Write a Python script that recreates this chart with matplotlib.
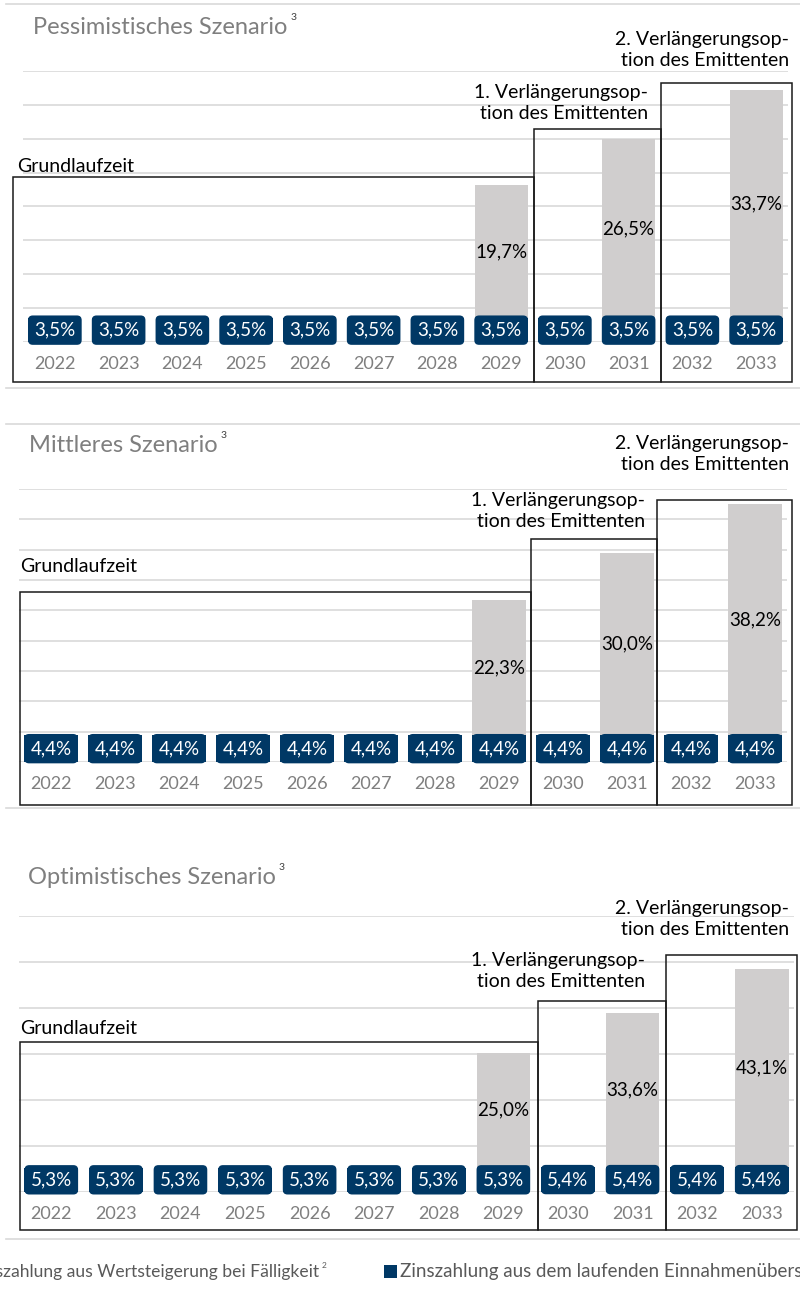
import matplotlib.pyplot as plt
from matplotlib.patches import Rectangle

plt.rcParams['font.family'] = ['Lato', 'DejaVu Sans']

W, H = 800, 1292
BLUE = '#003865'
GREY = '#d0cece'
GRID = '#d9d9d9'

years = [str(y) for y in range(2022, 2034)]

# laufende Zinszahlung (blau) und Zinszahlung bei Fälligkeit (grau)
pess_base = [3.5] * 12
pess_top = [0, 0, 0, 0, 0, 0, 0, 19.7, 0, 26.5, 0, 33.7]
mid_base = [4.4] * 12
mid_top = [0, 0, 0, 0, 0, 0, 0, 22.3, 0, 30.0, 0, 38.2]
opt_base = [5.3] * 8 + [5.4] * 4
opt_top = [0, 0, 0, 0, 0, 0, 0, 25.0, 0, 33.6, 0, 43.1]

titles = ['Pessimistisches Szenario', 'Mittleres Szenario', 'Optimistisches Szenario']
opt1 = '1. Verlängerungsop-\ntion des Emittenten'
opt2 = '2. Verlängerungsop-\ntion des Emittenten'

fig = plt.figure(figsize=(8, 12.92), dpi=100)
renderer = fig.canvas.get_renderer()


def px_axes(left, right, top, bottom):
    return fig.add_axes([left / W, 1 - bottom / H, (right - left) / W, (bottom - top) / H])


def ftext(x, y, s, **kw):
    return fig.text(x / W, 1 - y / H, s, **kw)


def sup_after(t, s, dy, **kw):
    # small superscript placed right after a text
    bb = t.get_window_extent(renderer)
    ftext(bb.x1 + 3, H - (bb.y0 + bb.y1) / 2 - dy, s, va='center', **kw)


def fmt(v):
    return f'{v:.1f}'.replace('.', ',') + '%'


# layout per panel (pixel positions of the plot area, box edges in data units)
panels = [
    dict(base=pess_base, top=pess_top, rect=(23, 788, 71, 342), ymax=40, step=5,
         boxes=[(-0.66, 7.52, -5.9, 24.4), (7.52, 9.51, -5.9, 31.4), (9.51, 11.57, -5.9, 38.2)],
         title=(33, 27), grund=(17, 166), t1=(648, 103), t2=(789, 50),
         frame=(4, 388)),
    dict(base=mid_base, top=mid_top, rect=(19, 787, 489, 762), ymax=45, step=5,
         boxes=[(-0.48, 7.5, -7.1, 28.0), (7.5, 9.47, -7.1, 36.7), (9.47, 11.58, -7.1, 43.2)],
         title=(29, 445), grund=(20, 567), t1=(645, 511), t2=(789, 454),
         frame=(424, 808)),
    dict(base=opt_base, top=opt_top, rect=(19, 794, 916, 1192), ymax=60, step=10,
         boxes=[(-0.48, 7.54, -8.3, 32.6), (7.54, 9.52, -8.3, 41.5), (9.52, 11.55, -8.3, 51.5)],
         title=(28, 877), grund=(20, 1028), t1=(645, 971), t2=(789, 919),
         frame=(None, 1239)),
]

for p, title in zip(panels, titles):
    ax = px_axes(*p['rect'])
    x = list(range(len(years)))
    ax.bar(x, p['base'], width=0.83, color=BLUE, zorder=2)
    ax.bar(x, p['top'], bottom=p['base'], width=0.83, color=GREY, zorder=2)
    ax.set_xlim(-0.5, len(years) - 0.5)
    ax.set_ylim(0, p['ymax'])
    ax.set_yticks(range(0, p['ymax'] + 1, p['step']))
    ax.yaxis.grid(True, color=GRID, lw=1.2)
    ax.set_axisbelow(True)
    ax.set_xticks(x, years)
    ax.tick_params(axis='x', length=0, pad=10, labelsize=13, labelcolor='#7f7f7f')
    ax.tick_params(axis='y', length=0, labelleft=False)
    for s in ax.spines.values():
        s.set_visible(False)

    for i, (b, t) in enumerate(zip(p['base'], p['top'])):
        ax.text(i, b / 2, fmt(b), ha='center', va='center', color='white', fontsize=13.5, zorder=4,
                bbox=dict(boxstyle='round,pad=0.33,rounding_size=0.25', fc=BLUE, ec='none'))
        if t > 0:
            ax.text(i, b + t / 2, fmt(t), ha='center', va='center', color='black',
                    fontsize=13.5, zorder=4)

    for x0, x1, y0, y1 in p['boxes']:
        ax.add_patch(Rectangle((x0, y0), x1 - x0, y1 - y0, fill=False, ec='#1a1a1a',
                               lw=1.1, clip_on=False, zorder=5))

    tx, ty = p['title']
    tt = ftext(tx, ty, title, fontsize=17, color='#7f7f7f', va='center')
    sup_after(tt, '3', 10, fontsize=7.5, color='#404040')
    ftext(p['grund'][0], p['grund'][1], 'Grundlaufzeit', fontsize=14, va='center')
    ftext(p['t1'][0], p['t1'][1], opt1, fontsize=14, ha='right', va='center', linespacing=1.25)
    ftext(p['t2'][0], p['t2'][1], opt2, fontsize=14, ha='right', va='center', linespacing=1.25)

    top_y, bot_y = p['frame']
    for yy in (top_y, bot_y):
        if yy is not None:
            fig.add_artist(plt.Line2D([6 / W, 1], [1 - yy / H] * 2, color=GRID, lw=1.2))

# Legende (links und rechts abgeschnitten wie im Original)
ftext(319, 1272, 'Zinszahlung aus Wertsteigerung bei Fälligkeit', fontsize=12.6,
      color='#595959', ha='right', va='center')
ftext(322, 1265, '2', fontsize=6, color='#595959', va='center')
fig.add_artist(Rectangle((384 / W, 1 - 1278 / H), 13 / W, 13 / H, transform=fig.transFigure,
                         fc=BLUE, ec='none'))
ftext(400, 1272, 'Zinszahlung aus dem laufenden Einnahmenüberschuss', fontsize=13.5,
      color='#595959', va='center')

fig.savefig('out.png', dpi=100)
